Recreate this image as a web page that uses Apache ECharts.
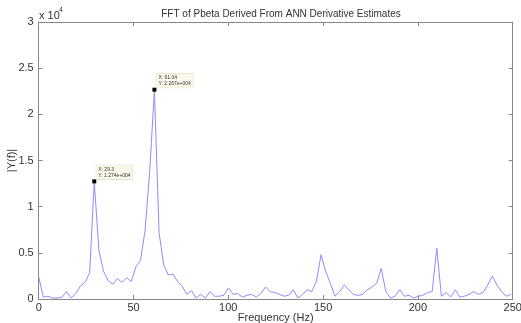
<!DOCTYPE html>
<html>
<head>
<meta charset="utf-8">
<script src="https://cdn.jsdelivr.net/npm/echarts@6/dist/echarts.min.js"></script>
<style>
  html, body { margin: 0; padding: 0; background: #fff; }
  #chart { width: 521px; height: 323px; }
</style>
</head>
<body>
<div id="chart"></div>
<script>
const LINE_COLOR = '#8c8cff'
const AXIS_COLOR = '#888'
const TEXT_COLOR = '#333'
const FONT = 'Liberation Sans, Arial, sans-serif'

// FFT bin frequencies (Hz)
const freqs = [
  0, 2.44, 4.88, 7.32, 9.77, 12.21, 14.65, 17.09, 19.53, 21.97,
  24.41, 26.86, 29.30, 31.74, 34.18, 36.62, 39.06, 41.50, 43.95, 46.39,
  48.83, 51.27, 53.71, 56.15, 58.59, 61.04, 63.48, 65.92, 68.36, 70.80,
  73.24, 75.68, 78.13, 80.57, 83.01, 85.45, 87.89, 90.33, 92.77, 95.21,
  97.66, 100.10, 102.54, 104.98, 107.42, 109.86, 112.30, 114.75, 117.19, 119.63,
  122.07, 124.51, 126.95, 129.39, 131.84, 134.28, 136.72, 139.16, 141.60, 144.04,
  146.48, 148.93, 151.37, 153.81, 156.25, 158.69, 161.13, 163.57, 166.02, 168.46,
  170.90, 173.34, 175.78, 178.22, 180.66, 183.11, 185.55, 187.99, 190.43, 192.87,
  195.31, 197.75, 200.20, 202.64, 205.08, 207.52, 209.96, 212.40, 214.84, 217.29,
  219.73, 222.17, 224.61, 227.05, 229.49, 231.93, 234.38, 236.82, 239.26, 241.70,
  244.14, 246.58, 249.02
]

// |Y(f)| in units of 10^4
const magnitude = [
  0.24, 0.02, 0.03, 0.01, 0.01, 0.02, 0.08, 0.01, 0.06, 0.14,
  0.18, 0.28, 1.274, 0.53, 0.30, 0.20, 0.16, 0.22, 0.18, 0.23,
  0.19, 0.35, 0.42, 0.75, 1.40, 2.267, 0.72, 0.37, 0.26, 0.27,
  0.19, 0.14, 0.05, 0.09, 0.01, 0.05, 0.01, 0.08, 0.03, 0.03,
  0.04, 0.12, 0.05, 0.06, 0.02, 0.04, 0.05, 0.02, 0.06, 0.13,
  0.08, 0.07, 0.05, 0.03, 0.04, 0.10, 0.01, 0.05, 0.10, 0.08,
  0.19, 0.48, 0.30, 0.17, 0.03, 0.08, 0.15, 0.10, 0.05, 0.04,
  0.05, 0.10, 0.13, 0.17, 0.33, 0.08, 0.01, 0.03, 0.10, 0.03,
  0.04, 0.01, 0.03, 0.04, 0.07, 0.08, 0.55, 0.03, 0.07, 0.02,
  0.10, 0.02, 0.03, 0.05, 0.08, 0.05, 0.07, 0.15, 0.25, 0.15,
  0.08, 0.03, 0.05
]

// bins marked with data tips
const tipBins = [12, 25]

const xTicks = [0, 50, 100, 150, 200, 250]
const yTicks = [0, 0.5, 1, 1.5, 2, 2.5, 3]

const fmtY = (v) => {
  const [m, e] = (v * 1e4).toExponential(3).split('e')
  const sign = e[0] === '-' ? '-' : '+'
  return m + 'e' + sign + e.replace(/[+-]/, '').padStart(3, '0')
}

const chart = echarts.init(document.getElementById('chart'))

const axisLine = { show: true, onZero: false, lineStyle: { color: AXIS_COLOR, width: 1 } }
const axisTick = { show: true, inside: true, length: 4, lineStyle: { color: AXIS_COLOR, width: 1 } }

const mirrorAxis = {
  axisLine,
  axisTick,
  axisLabel: { show: false },
  splitLine: { show: false }
}

chart.setOption({
  animation: false,
  backgroundColor: '#fff',
  textStyle: { fontFamily: FONT },
  title: {
    text: 'FFT of Pbeta Derived From ANN Derivative Estimates',
    left: 276,
    top: 4,
    textAlign: 'center',
    textStyle: { fontSize: 10, fontWeight: 'normal', color: TEXT_COLOR, fontFamily: FONT }
  },
  graphic: [
    { type: 'text', left: 39, top: 10, style: { text: 'x 10', fill: TEXT_COLOR, font: '11px ' + FONT } },
    { type: 'text', left: 59, top: 7, style: { text: '4', fill: TEXT_COLOR, font: '7px ' + FONT } }
  ],
  grid: { left: 38.7, right: 8.3, top: 22, bottom: 24, containLabel: false, outerBoundsMode: 'none' },
  xAxis: [{
    type: 'value',
    min: xTicks[0],
    max: xTicks[xTicks.length - 1],
    interval: 50,
    name: 'Frequency (Hz)',
    nameLocation: 'middle',
    nameGap: 13,
    nameMoveOverlap: false,
    nameTextStyle: { fontSize: 11, color: TEXT_COLOR },
    axisLine,
    axisTick,
    axisLabel: { fontSize: 11, color: TEXT_COLOR, margin: 3 },
    splitLine: { show: false }
  }, {
    type: 'value',
    position: 'top',
    min: xTicks[0],
    max: xTicks[xTicks.length - 1],
    interval: 50,
    ...mirrorAxis
  }],
  yAxis: [{
    type: 'value',
    min: yTicks[0],
    max: yTicks[yTicks.length - 1],
    interval: 0.5,
    name: '|Y(f)|',
    nameLocation: 'middle',
    nameGap: 21,
    nameMoveOverlap: false,
    nameTextStyle: { fontSize: 11, color: TEXT_COLOR },
    axisLine,
    axisTick,
    axisLabel: { fontSize: 11, color: TEXT_COLOR, margin: 5 },
    splitLine: { show: false }
  }, {
    type: 'value',
    position: 'right',
    min: yTicks[0],
    max: yTicks[yTicks.length - 1],
    interval: 0.5,
    ...mirrorAxis
  }],
  series: [{
    type: 'line',
    data: freqs.map((f, i) => [f, magnitude[i]]),
    showSymbol: false,
    lineStyle: { color: LINE_COLOR, width: 1 },
    markPoint: {
      symbol: 'rect',
      symbolSize: 4,
      itemStyle: { color: '#000' },
      label: {
        show: true,
        position: [4, -14],
        fontSize: 5,
        lineHeight: 6,
        color: '#333',
        backgroundColor: '#fbf8e9',
        borderColor: '#d8d4c0',
        borderWidth: 0.5,
        padding: [1, 2],
        formatter: (p) => 'X: ' + p.data.coord[0].toString() + '\nY: ' + fmtY(p.data.coord[1])
      },
      data: tipBins.map((k) => ({ coord: [freqs[k], magnitude[k]] }))
    }
  }]
})
</script>
</body>
</html>
